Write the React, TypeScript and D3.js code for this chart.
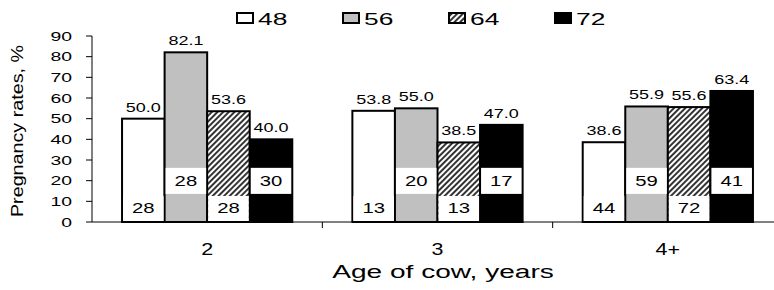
import React from "react";
import * as d3 from "d3";

const categories = ["2", "3", "4+"];
const seriesNames = ["48", "56", "64", "72"];
const rate48 = [50.0, 53.8, 38.6];
const rate56 = [82.1, 55.0, 55.9];
const rate64 = [53.6, 38.5, 55.6];
const rate72 = [40.0, 47.0, 63.4];
const n48 = [28, 13, 44];
const n56 = [28, 20, 59];
const n64 = [28, 13, 72];
const n72 = [30, 17, 41];
const yTicks = [0, 10, 20, 30, 40, 50, 60, 70, 80, 90];

const rates = [rate48, rate56, rate64, rate72];
const counts = [n48, n56, n64, n72];
const fills = ["#ffffff", "#c0c0c0", "url(#hatch)", "#000000"];

const W = 774;
const H = 290;
const font = "'Liberation Sans', Arial, sans-serif";

const App = () => {
  const x0 = d3.scaleBand().domain(categories).range([92, 783]);
  const x1 = d3
    .scaleBand()
    .domain(seriesNames)
    .range([0, x0.bandwidth()])
    .paddingInner(0)
    .paddingOuter(0.706);
  const y = d3.scaleLinear().domain([0, 90]).range([222, 36]);
  const bw = x1.bandwidth();

  const bars = [];
  categories.forEach((c, ci) => {
    seriesNames.forEach((s, si) => {
      bars.push({ c, ci, s, si, v: rates[si][ci], n: counts[si][ci] });
    });
  });

  const legendStep = 106;

  return (
    <svg
      width={W}
      height={H}
      style={{ position: "absolute", left: 0, top: 0, background: "#fff" }}
      fontFamily={font}
    >
      <defs>
        <pattern
          id="hatch"
          patternUnits="userSpaceOnUse"
          width="4"
          height="4"
          patternTransform="rotate(45)"
        >
          <rect width="4" height="4" fill="#fff" />
          <line x1="1" y1="0" x2="1" y2="4" stroke="#000" strokeWidth="1.6" />
        </pattern>
      </defs>

      {/* bars */}
      {bars.map((b) => (
        <rect
          key={"bar" + b.c + b.s}
          x={x0(b.c)! + x1(b.s)!}
          y={y(b.v)}
          width={bw}
          height={y(0) - y(b.v)}
          fill={fills[b.si]}
          stroke="#000"
          strokeWidth={2}
        />
      ))}

      {/* value labels */}
      {bars.map((b) => (
        <text
          key={"val" + b.c + b.s}
          transform={`translate(${x0(b.c)! + x1(b.s)! + bw / 2},${y(b.v) - 7}) scale(1.5,1)`}
          textAnchor="middle"
          fontSize={12}
        >
          {b.v.toFixed(1)}
        </text>
      ))}

      {/* count boxes */}
      {bars.map((b) => {
        const low = b.si % 2 === 0;
        const top = low ? y(12.6) : y(26.2);
        const bot = low ? y(0) - 1 : y(13.6);
        const cx = x0(b.c)! + x1(b.s)! + bw / 2;
        return (
          <g key={"n" + b.c + b.s}>
            <rect x={cx - bw / 2 + 1} y={top} width={bw - 2} height={bot - top} fill="#fff" />
            <text
              transform={`translate(${cx},${bot - 8}) scale(1.45,1)`}
              textAnchor="middle"
              fontSize={14}
            >
              {b.n}
            </text>
          </g>
        );
      })}

      {/* y axis */}
      <line x1={92} x2={92} y1={y(90)} y2={y(0)} stroke="#000" strokeWidth={1} />
      {yTicks.map((t) => (
        <g key={"yt" + t}>
          <line x1={86} x2={92} y1={y(t)} y2={y(t)} stroke="#000" strokeWidth={1} />
          <text
            transform={`translate(72,${y(t) + 4.5}) scale(1.55,1)`}
            textAnchor="end"
            fontSize={12.5}
          >
            {t}
          </text>
        </g>
      ))}

      {/* x axis */}
      <line x1={92} x2={W} y1={y(0)} y2={y(0)} stroke="#000" strokeWidth={1} />
      {categories.map((c) => (
        <line
          key={"xt" + c}
          x1={x0(c)! + x0.bandwidth()}
          x2={x0(c)! + x0.bandwidth()}
          y1={y(0)}
          y2={y(0) + 6}
          stroke="#000"
          strokeWidth={1}
        />
      ))}
      {categories.map((c) => (
        <text
          key={"xl" + c}
          transform={`translate(${x0(c)! + x0.bandwidth() / 2},255) scale(1.3,1)`}
          textAnchor="middle"
          fontSize={16.5}
        >
          {c}
        </text>
      ))}

      <text transform="translate(443,278) scale(1.56,1)" textAnchor="middle" fontSize={18}>
        Age of cow, years
      </text>
      <text
        transform="translate(22.5,131) rotate(-90) scale(1.16,1)"
        textAnchor="middle"
        fontSize={17}
      >
        Pregnancy rates, %
      </text>

      {/* legend */}
      {seriesNames.map((s, i) => {
        const lx = 237 + i * legendStep;
        return (
          <g key={"lg" + s}>
            <rect x={lx} y={13} width={16} height={10} fill={fills[i]} stroke="#000" strokeWidth={2} />
            <text transform={`translate(${lx + 21},25) scale(1.55,1)`} fontSize={17}>
              {s}
            </text>
          </g>
        );
      })}
    </svg>
  );
};

export default App;
